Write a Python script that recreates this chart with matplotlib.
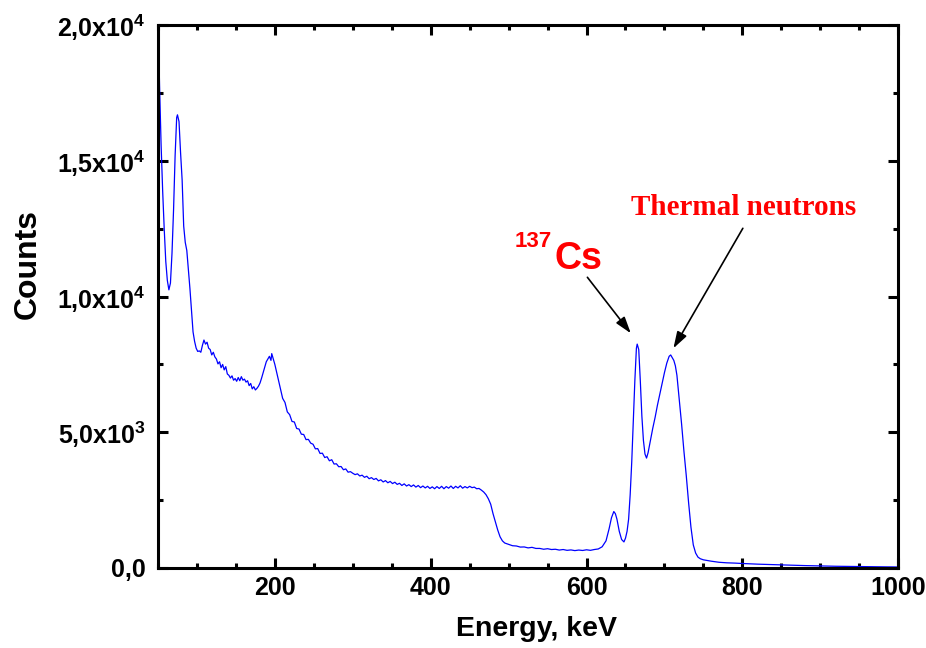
import matplotlib
matplotlib.use("Agg")
import matplotlib.pyplot as plt
from matplotlib.ticker import FixedLocator, MultipleLocator, FixedFormatter

plt.rcParams["font.family"] = ["Liberation Sans", "DejaVu Sans"]
plt.rcParams["font.weight"] = "bold"
plt.rcParams["mathtext.fontset"] = "custom"
plt.rcParams["mathtext.rm"] = "Liberation Sans:bold"
plt.rcParams["mathtext.bf"] = "Liberation Sans:bold"
plt.rcParams["mathtext.default"] = "rm"

# Gamma spectrum: energy (keV) and counts per channel
energy = [
    50, 51, 52, 54, 56, 58, 60, 62, 64, 66, 68, 70, 72, 74, 75, 77, 79, 81, 83, 85,
    87, 89, 91, 93, 95, 97, 99, 101, 103, 105, 107, 109, 111, 113, 115, 117, 119,
    121, 123, 125, 127, 129, 131, 133, 135, 137, 139, 141, 143, 145, 147, 149, 151,
    153, 155, 157, 159, 161, 163, 165, 167, 169, 171, 173, 175, 177, 179, 181, 183,
    185, 187, 189, 191, 193, 195, 196, 198, 200, 202, 204, 206, 208, 210,
    213, 216, 219, 222, 225, 228, 231, 234, 237, 240, 243, 246, 249, 252, 255, 258,
    261, 264, 267, 270, 273, 276, 279, 282, 285, 288, 291, 294, 297,
    300, 303, 306, 309, 312, 315, 318, 321, 324, 327, 330, 333, 336, 339, 342, 345,
    348, 351, 354, 357, 360, 363, 366, 369, 372, 375, 378, 381, 384, 387, 390, 393,
    396, 399, 402, 405, 408, 411, 414, 417, 420, 423, 426, 429, 432, 435, 438, 441,
    444, 447, 450, 453, 456, 459, 462, 465, 468,
    471, 474, 477, 480, 483, 486, 489, 492, 495,
    500, 505, 510, 515, 520, 525, 530, 535, 540, 545, 550, 555, 560, 565, 570, 575,
    580, 585, 590, 595, 600, 605, 610, 615,
    620, 625, 629, 632, 635, 637, 639, 642, 645, 648, 650, 652, 654, 656, 658, 660,
    662, 664, 665, 667, 669, 671, 673, 675, 677, 679, 682, 685, 688, 691, 694, 697,
    700, 703, 706, 708, 710, 712, 714, 716, 718, 720, 722, 725, 728, 731, 734, 737,
    740, 743, 746, 750, 760, 770, 780, 790, 800, 820, 840, 860, 880, 900, 920, 940,
    960, 980, 1000,
]
counts = [
    21000, 19200, 17800, 15600, 13900, 12500, 11300, 10600, 10250, 10500, 11600,
    13200, 15200, 16600, 16700, 16450, 15300, 14300, 12600, 12000, 11700, 11000,
    10300, 9500, 8700, 8350, 8100, 7980, 8000, 7950, 8200, 8400, 8250, 8320, 8100,
    8050, 7850, 7950, 7780, 7700, 7520, 7600, 7380, 7500, 7300, 7420, 7150, 7100,
    7000, 7080, 6920, 6980, 6880, 7020, 6900, 7050, 6920, 6960, 6850, 6900, 6720,
    6800, 6600, 6680, 6560, 6620, 6700, 6820, 7000, 7200, 7400, 7600, 7700, 7800,
    7650, 7900, 7700, 7500, 7250, 7000, 6750, 6500, 6250,
    6100, 5750, 5650, 5400, 5380, 5140, 5120, 4930, 4920, 4730, 4740, 4600, 4560,
    4390, 4400, 4220, 4230, 4070, 4100, 3950, 3990, 3830, 3840, 3730, 3740, 3620,
    3650, 3530, 3550,
    3490, 3440, 3470, 3390, 3420, 3340, 3380, 3290, 3330, 3260, 3300, 3210, 3250,
    3170, 3220, 3140, 3190, 3110, 3160, 3080, 3120, 3040, 3100, 3020, 3070, 3000,
    3060, 2980, 3040, 2960, 3020, 2950, 3010, 2930, 2990, 2920, 3000, 2930, 3010,
    2920, 3000, 2940, 3020, 2930, 3010, 2950, 3030, 2940, 3000, 2950, 3010, 2960,
    2980, 2920, 2930, 2870, 2800,
    2700, 2550, 2350, 2000, 1700, 1400, 1150, 1000, 920,
    870, 820, 810, 770, 775, 740, 760, 720, 720, 690, 710, 680, 690, 660, 680, 650,
    665, 640, 660, 645, 670, 650, 680, 700,
    780, 1000, 1450, 1850, 2080, 2000, 1800, 1350, 1050, 960, 1100, 1350, 1800,
    2700, 3900, 5400, 6900, 8100, 8250, 8050, 6900, 5600, 4700, 4200, 4050, 4250,
    4700, 5150, 5550, 6000, 6400, 6800, 7200, 7550, 7800, 7850, 7750, 7650, 7450,
    7100, 6500, 5900, 5300, 4300, 3400, 2400, 1500, 850, 550, 400, 340, 300, 250,
    210, 190, 180, 165, 140, 122, 105, 88, 75, 63, 55, 48, 42, 36,
]

x_ticks = [200, 400, 600, 800, 1000]
x_tick_labels = ["200", "400", "600", "800", "1000"]
y_ticks = [0, 5000, 10000, 15000, 20000]
y_tick_labels = ["0,0", "5,0x10$^{3}$", "1,0x10$^{4}$", "1,5x10$^{4}$", "2,0x10$^{4}$"]

fig = plt.figure(figsize=(9.26, 6.48), dpi=100)
ax = fig.add_axes([0.1706, 0.1235, 0.7994, 0.8375])

ax.plot(energy, counts, color="#0000ff", lw=0.9)

ax.set_xlim(50, 1000)
ax.set_ylim(0, 20000)

ax.xaxis.set_major_locator(FixedLocator(x_ticks))
ax.xaxis.set_major_formatter(FixedFormatter(x_tick_labels))
ax.xaxis.set_minor_locator(MultipleLocator(50))
ax.yaxis.set_major_locator(FixedLocator(y_ticks))
ax.yaxis.set_major_formatter(FixedFormatter(y_tick_labels))
ax.yaxis.set_minor_locator(MultipleLocator(2500))

ax.tick_params(which="both", direction="in", top=True, right=True, width=2.2)
ax.tick_params(which="major", length=7.5)
ax.tick_params(which="minor", length=3.8)
ax.tick_params(axis="x", which="major", pad=6, labelsize=18)
ax.tick_params(axis="y", which="major", pad=9, labelsize=18)
for s in ax.spines.values():
    s.set_linewidth(2.2)

ax.set_xlabel("Energy, keV", fontsize=20.5, fontweight="bold")
ax.set_ylabel("Counts", fontsize=23, fontweight="bold")
ax.xaxis.set_label_coords(0.511, -0.088)
ax.yaxis.set_label_coords(-0.155, 0.56)

# Peak annotations
ax.text(801.7, 13008, "Thermal neutrons", color="red", fontsize=21,
        fontweight="bold", family="Liberation Serif", ha="center", va="baseline")
ax.text(558.4, 11018, "Cs", color="red", fontsize=27, fontweight="bold",
        ha="left", va="baseline")
ax.text(508.3, 11829, "137", color="red", fontsize=16, fontweight="bold",
        ha="left", va="baseline")

arrow = dict(arrowstyle="-|>,head_length=1.0,head_width=0.32", color="black", lw=1.2,
             shrinkA=0, shrinkB=0)
ax.annotate("", xy=(656.8, 8649), xytext=(601.1, 10712), arrowprops=arrow)
ax.annotate("", xy=(711.5, 8096), xytext=(800.6, 12518), arrowprops=arrow)

fig.savefig("out.png", dpi=100)
